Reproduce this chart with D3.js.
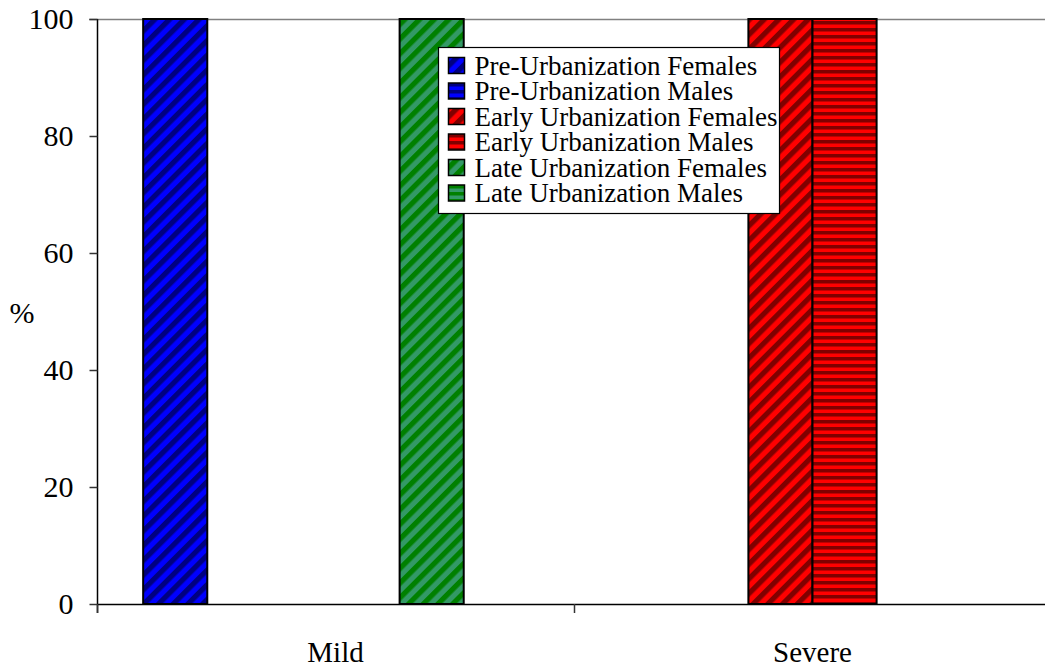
<!DOCTYPE html>
<html>
<head>
<meta charset="utf-8">
<script src="https://cdn.jsdelivr.net/npm/d3@7"></script>
<style>
  html, body { margin: 0; padding: 0; background: #fff; }
  svg { display: block; }
  svg text { font-family: "Liberation Serif", "Times New Roman", serif; }
</style>
</head>
<body>
<svg id="chart" width="1045" height="671"></svg>
<script>
// Severity groups on the x axis
const categories = ["Mild", "Severe"];

// Series names, in legend order
const seriesNames = [
  "Pre-Urbanization Females",
  "Pre-Urbanization Males",
  "Early Urbanization Females",
  "Early Urbanization Males",
  "Late Urbanization Females",
  "Late Urbanization Males"
];

// Percent per category (Mild, Severe) for each series
const preFemales   = [100, 0];
const preMales     = [0, 0];
const earlyFemales = [0, 100];
const earlyMales   = [0, 100];
const lateFemales  = [100, 0];
const lateMales    = [0, 0];

const seriesValues = [preFemales, preMales, earlyFemales, earlyMales, lateFemales, lateMales];

// Y axis ticks
const yTicks = [0, 20, 40, 60, 80, 100];

// Fill styles: base colour, stripe colour, stripe direction
const styles = [
  { base: "#0000ff", stripe: "#000080", kind: "diag" },
  { base: "#0000ff", stripe: "#000080", kind: "horiz" },
  { base: "#ff0000", stripe: "#800000", kind: "diag" },
  { base: "#ff0000", stripe: "#800000", kind: "horiz" },
  { base: "#339966", stripe: "#008000", kind: "diag" },
  { base: "#339966", stripe: "#008000", kind: "horiz" }
];

const FONT = "'Liberation Serif', 'Times New Roman', serif";

const svg = d3.select("#chart");
const defs = svg.append("defs");

styles.forEach((s, i) => {
  if (s.kind === "diag") {
    const w = 10.4;
    const p = defs.append("pattern")
      .attr("id", "pat" + i)
      .attr("patternUnits", "userSpaceOnUse")
      .attr("width", w).attr("height", w)
      .attr("patternTransform", "rotate(45)");
    p.append("rect").attr("width", w).attr("height", w).attr("fill", s.base);
    p.append("rect").attr("width", w / 2).attr("height", w).attr("fill", s.stripe);
  } else {
    const p = defs.append("pattern")
      .attr("id", "pat" + i)
      .attr("patternUnits", "userSpaceOnUse")
      .attr("width", 10).attr("height", 7);
    p.append("rect").attr("width", 10).attr("height", 7).attr("fill", s.base);
    p.append("rect").attr("width", 10).attr("height", 3.5).attr("fill", s.stripe);
  }
});

const plot = { left: 97, right: 1051, top: 19, bottom: 604 };

const x0 = d3.scaleBand()
  .domain(categories)
  .range([plot.left, plot.right])
  .paddingInner(0).paddingOuter(0);

const x1 = d3.scaleBand()
  .domain(d3.range(seriesNames.length))
  .range([0, x0.bandwidth()])
  .paddingInner(0).paddingOuter(0.72);

const y = d3.scaleLinear().domain([0, 100]).range([plot.bottom, plot.top]);

// Top gridline at 100
svg.append("line")
  .attr("x1", plot.left - 8).attr("x2", 1045)
  .attr("y1", y(100) + 0.5).attr("y2", y(100) + 0.5)
  .attr("stroke", "#808080").attr("stroke-width", 1.5);

// Bars
const groups = svg.append("g").selectAll("g")
  .data(categories)
  .join("g")
  .attr("transform", c => `translate(${x0(c)},0)`);

groups.selectAll("rect")
  .data((c, ci) => seriesValues.map((vals, si) => ({ si, v: vals[ci] })).filter(d => d.v > 0))
  .join("rect")
  .attr("x", d => x1(d.si))
  .attr("width", x1.bandwidth())
  .attr("y", d => y(d.v))
  .attr("height", d => y(0) - y(d.v))
  .attr("fill", d => `url(#pat${d.si})`)
  .attr("stroke", "#000")
  .attr("stroke-width", 2);

// Y axis
const yAxis = svg.append("g")
  .attr("transform", `translate(${plot.left + 0.5},0)`)
  .call(d3.axisLeft(y).tickValues(yTicks).tickSize(8).tickPadding(16).tickSizeOuter(0));
yAxis.select(".domain").attr("stroke", "#000").attr("stroke-width", 1.5)
  .attr("d", `M0,${plot.top}V${plot.bottom + 9}`);
yAxis.selectAll(".tick line").attr("stroke", "#333").attr("stroke-width", 1.5);
yAxis.selectAll(".tick text")
  .style("font-family", FONT)
  .attr("font-size", 30).attr("fill", "#000");

// X axis: baseline with boundary ticks between categories
svg.append("line")
  .attr("x1", plot.left).attr("x2", 1045)
  .attr("y1", plot.bottom + 0.5).attr("y2", plot.bottom + 0.5)
  .attr("stroke", "#000").attr("stroke-width", 1.5);
const boundaries = categories.map(c => x0(c)).concat([x0(categories[categories.length - 1]) + x0.bandwidth()]);
svg.append("g").selectAll("line")
  .data(boundaries.filter(b => b < 1045))
  .join("line")
  .attr("x1", b => Math.round(b) + 0.5).attr("x2", b => Math.round(b) + 0.5)
  .attr("y1", plot.bottom).attr("y2", plot.bottom + 9)
  .attr("stroke", "#333").attr("stroke-width", 1.5);

svg.append("g").selectAll("text")
  .data(categories)
  .join("text")
  .attr("x", c => x0(c) + x0.bandwidth() / 2)
  .attr("y", 662)
  .attr("text-anchor", "middle")
  .style("font-family", FONT)
  .attr("font-size", 29)
  .attr("fill", "#000")
  .text(c => c);

// Y axis title
svg.append("text")
  .attr("x", 22).attr("y", 323)
  .attr("text-anchor", "middle")
  .style("font-family", FONT)
  .attr("font-size", 30)
  .attr("fill", "#000")
  .text("%");

// Legend
const legend = svg.append("g").attr("transform", "translate(438.5,47.5)");
legend.append("rect")
  .attr("width", 341).attr("height", 166)
  .attr("fill", "#fff").attr("stroke", "#000").attr("stroke-width", 1.2);

const rowH = 25.5;
const items = legend.selectAll("g.item")
  .data(seriesNames)
  .join("g")
  .attr("class", "item")
  .attr("transform", (d, i) => `translate(0,${10 + i * rowH})`);

items.append("rect")
  .attr("x", 10).attr("y", 0)
  .attr("width", 16).attr("height", 16)
  .attr("fill", (d, i) => `url(#pat${i})`)
  .attr("stroke", "#000").attr("stroke-width", 1.5);

items.append("text")
  .attr("x", 36).attr("y", 17)
  .style("font-family", FONT)
  .attr("font-size", 27)
  .attr("fill", "#000")
  .text(d => d);
</script>
</body>
</html>
